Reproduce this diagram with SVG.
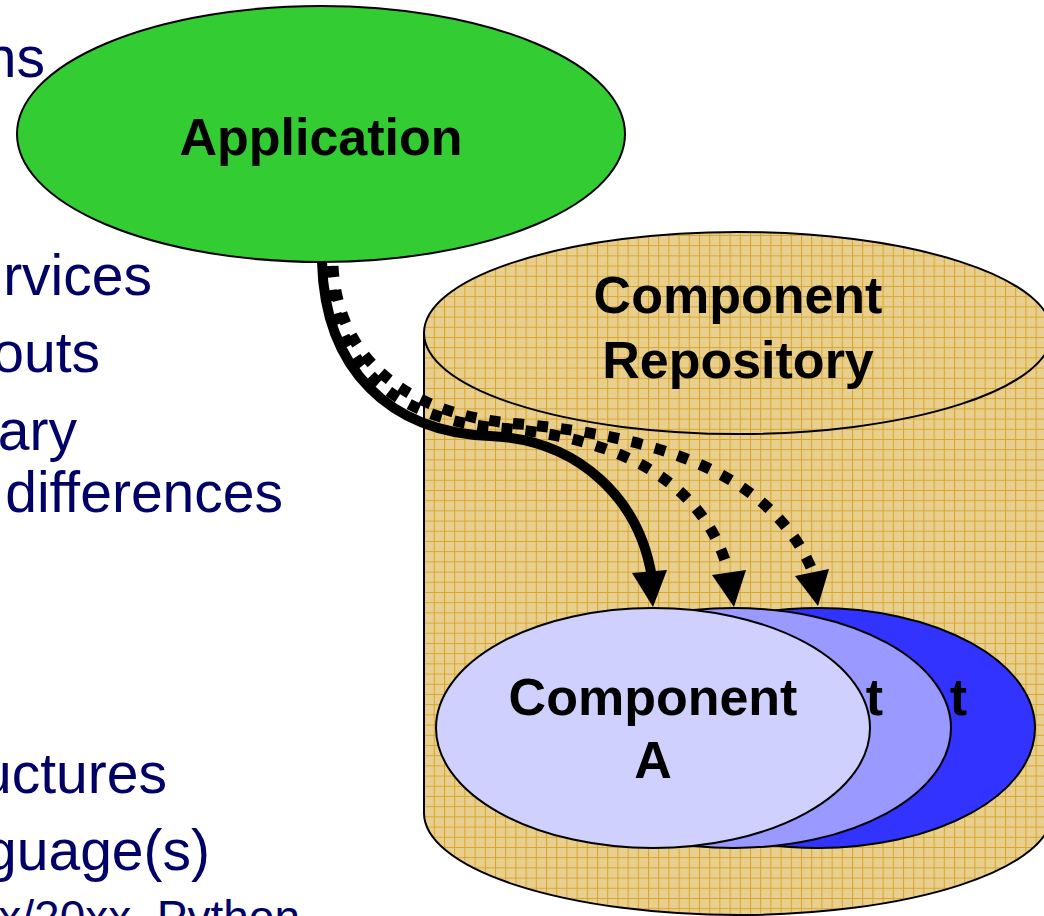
<svg xmlns="http://www.w3.org/2000/svg" width="1044" height="916" viewBox="0 0 1044 916">
<defs>
<pattern id="grid" patternUnits="userSpaceOnUse" x="444" y="490" width="10.2" height="10.2">
<rect width="10.2" height="10.2" fill="#E9CF8E"/>
<path d="M0 0.5 H10.2 M0.5 0 V10.2" stroke="#D6A52C" stroke-width="1"/>
</pattern>
<style>
.side{font-family:"Liberation Sans",Arial,sans-serif;font-size:57px;fill:#000066;text-anchor:end}
.lbl{font-family:"Liberation Sans",Arial,sans-serif;font-size:52px;font-weight:bold;fill:#000;text-anchor:middle}
.ol{stroke:#000;stroke-width:2}
.dot{fill:none;stroke:#000;stroke-width:11;stroke-dasharray:11 13}
</style>
</defs>
<rect width="1044" height="916" fill="#fff"/>
<g id="sidetext">
<text class="side" x="45" y="77">ns</text>
<text class="side" x="152" y="295">rvices</text>
<text class="side" x="100" y="372">outs</text>
<text class="side" x="77" y="450">ary</text>
<text class="side" x="283" y="512">differences</text>
<text class="side" x="167" y="793">uctures</text>
<text class="side" x="210" y="870">guage(s)</text>
<text class="side" x="300" y="933" style="font-size:46px">x/20xx, Python</text>
</g>
<g id="application">
<ellipse class="ol" cx="321" cy="134" rx="304" ry="128" fill="#33CC33"/>
<text class="lbl" x="321" y="155">Application</text>
</g>
<g id="repository">
<path class="ol" d="M424 333 V813 A314 102 0 0 0 1052 813 V333 Z" fill="url(#grid)"/>
<ellipse class="ol" cx="738" cy="333" rx="314" ry="101" fill="url(#grid)"/>
<text class="lbl" x="738" y="313">Component</text>
<text class="lbl" x="738" y="378">Repository</text>
</g>
<g id="connectors">
<path d="M322 262 C325 370 390 432 490 436 C580 440 640 500 652 578" fill="none" stroke="#000" stroke-width="10"/>
<path class="dot" d="M329 266 C333 370 400 420 500 428 C600 436 700 470 728 570"/>
<path class="dot" d="M333 266 C338 362 410 416 520 424 C650 436 770 470 812 570"/>
<polygon points="632,573 667,570 653,607"/>
<polygon points="712,575 746,570 734,607"/>
<polygon points="795,576 829,569 818,606"/>
</g>
<g id="componentC">
<ellipse class="ol" cx="818" cy="728" rx="217" ry="120" fill="#3333FF"/>
<text class="lbl" x="967" y="715" style="text-anchor:end">t</text>
</g>
<g id="componentB">
<ellipse class="ol" cx="734" cy="728" rx="217" ry="120" fill="#9999FF"/>
<text class="lbl" x="883" y="715" style="text-anchor:end">t</text>
</g>
<g id="componentA">
<ellipse class="ol" cx="653" cy="728" rx="217" ry="120" fill="#D0D0FF"/>
<text class="lbl" x="653" y="715">Component</text>
<text class="lbl" x="653" y="778">A</text>
</g>
</svg>
